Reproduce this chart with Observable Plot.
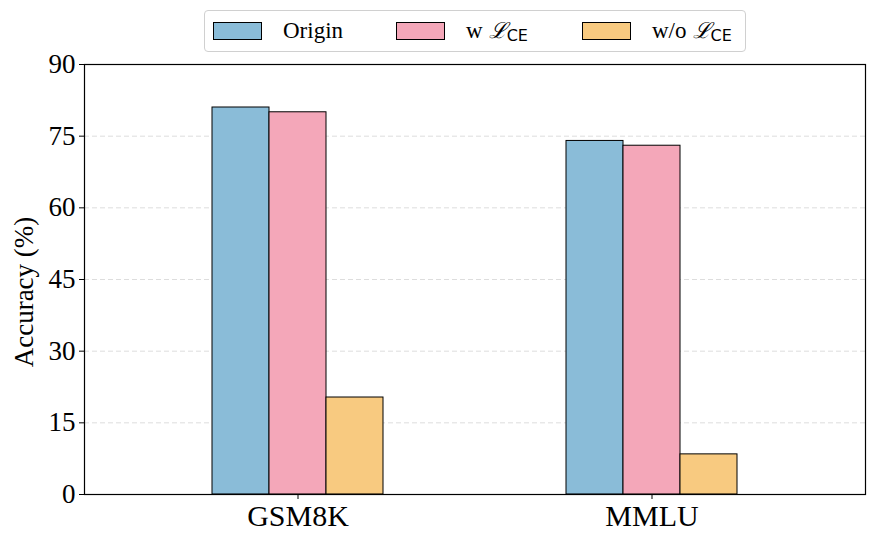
<!DOCTYPE html>
<html><head><meta charset="utf-8">
<script src="https://cdn.jsdelivr.net/npm/d3@7"></script>
<script src="https://cdn.jsdelivr.net/npm/@observablehq/plot@0.6"></script>
<style>
body{margin:0;background:#fff;font-family:"Liberation Serif","Times New Roman",serif;}
#wrap{position:relative;width:877px;height:544px;}
#legend{position:absolute;left:204px;top:10px;width:542px;height:42px;border:1px solid #d0d0d0;border-radius:4px;box-sizing:border-box;background:#fff;z-index:2;}
.item{display:flex;align-items:center;font-size:23px;color:#000;position:absolute;top:10px;height:20px;line-height:20px;}
.sw{width:49px;height:18px;border:1px solid #000;box-sizing:border-box;margin-right:21px;}
.L{font-family:"DejaVu Serif",serif;font-style:italic;display:inline-block;margin-left:6px;font-size:22px;}
.sub{font-family:"DejaVu Sans",sans-serif;font-size:16px;display:inline-block;margin-top:10px;}
</style></head>
<body>
<div id="wrap">
<div id="legend">
<div class="item" style="left:8px"><div class="sw" style="background:#8abcd8"></div>Origin</div>
<div class="item" style="left:191px"><div class="sw" style="background:#f4a7b9"></div>w<span class="L">ℒ</span><span class="sub">CE</span></div>
<div class="item" style="left:377px"><div class="sw" style="background:#f8ca80"></div>w/o<span class="L">ℒ</span><span class="sub">CE</span></div>
</div>
<div id="chart"></div>
</div>
<script>
const groups = ["GSM8K", "MMLU"];
const series = ["Origin", "w LCE", "w/o LCE"];
const colors = ["#8abcd8", "#f4a7b9", "#f8ca80"];
const originVals = [81.0, 74.0];
const wVals = [80.0, 73.0];
const woVals = [20.3, 8.4];
const yTicks = [0, 15, 30, 45, 60, 75, 90];

const rows = (vals) => groups.map((g, i) => ({group: g, value: vals[i]}));
const barW = 57;

const chart = Plot.plot({
  width: 877,
  height: 544,
  marginTop: 64,
  marginBottom: 50,
  marginLeft: 84,
  marginRight: 12,
  style: {fontFamily: "Liberation Serif, Times New Roman, serif", background: "#fff", color: "#000"},
  x: {domain: groups, paddingInner: 0.8397, paddingOuter: 0.52, label: null},
  y: {domain: [0, 90], ticks: yTicks, label: null},
  marks: [
    Plot.gridY(yTicks.filter(t => t > 0 && t < 90), {stroke: "#d4d4d4", strokeOpacity: 1, strokeDasharray: "5,3", strokeWidth: 0.8}),
    Plot.barY(rows(originVals), {x: "group", y: "value", fill: colors[0], stroke: "#000", strokeWidth: 1, dx: -barW}),
    Plot.barY(rows(wVals), {x: "group", y: "value", fill: colors[1], stroke: "#000", strokeWidth: 1}),
    Plot.barY(rows(woVals), {x: "group", y: "value", fill: colors[2], stroke: "#000", strokeWidth: 1, dx: barW}),
    Plot.axisY({ticks: yTicks, tickSize: 5, tickPadding: 4, fontSize: 27, stroke: "#000", label: null}),
    Plot.axisX({tickSize: 5, tickPadding: 5, fontSize: 30, stroke: "#000", label: null}),
    Plot.frame({stroke: "#000", strokeWidth: 1.2})
  ]
});
d3.select(chart).append("text")
  .attr("transform", "translate(33,292) rotate(-90)")
  .attr("text-anchor", "middle")
  .attr("font-size", 27)
  .attr("font-family", "Liberation Serif, Times New Roman, serif")
  .attr("fill", "#000")
  .text("Accuracy (%)");
document.getElementById("chart").appendChild(chart);
</script>
</body></html>
